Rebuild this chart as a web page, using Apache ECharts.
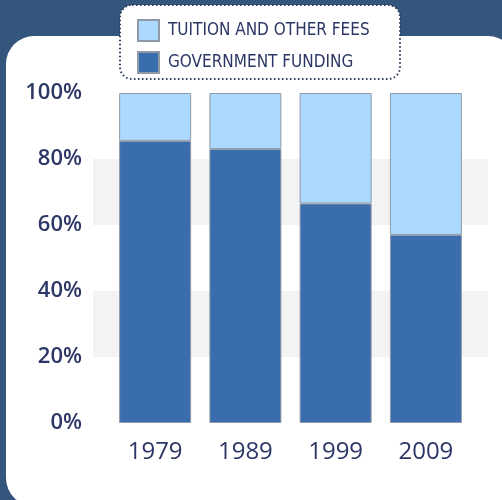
<!DOCTYPE html>
<html>
<head>
<meta charset="utf-8">
<style>
  html, body { margin: 0; padding: 0; background: #35567c; }
  #chart { width: 502px; height: 500px; }
</style>
<script src="https://cdn.jsdelivr.net/npm/echarts@6/dist/echarts.min.js"></script>
</head>
<body>
<div id="chart"></div>
<script>
// data
var years = ['1979', '1989', '1999', '2009'];
var governmentFunding = [85.5, 83, 66.5, 57];
var tuitionFees = [14.5, 17, 33.5, 43];
var yTicks = [0, 20, 40, 60, 80, 100];

var navy = '#2c3766';

var chart = echarts.init(document.getElementById('chart'));

var options = {
  backgroundColor: '#35567c',
  animation: false,
  graphic: [
    // white panel
    { type: 'rect', z: -10, shape: { x: 6, y: 36, width: 510, height: 470, r: 28 },
      style: { fill: '#ffffff' } },
    // dotted legend box
    { type: 'rect', z: 5, shape: { x: 120, y: 5, width: 280, height: 74, r: 12 },
      style: { fill: '#ffffff', stroke: '#2b3a5a', lineWidth: 2, lineDash: [1.5, 2.5] } }
  ],
  legend: {
    orient: 'vertical',
    left: 132,
    top: 14,
    z: 10,
    itemWidth: 21,
    itemHeight: 21,
    itemGap: 9,
    icon: 'rect',
    data: ['TUITION AND OTHER FEES', 'GOVERNMENT FUNDING'],
    textStyle: {
      fontFamily: '"DejaVu Sans Condensed", Roboto, sans-serif',
      fontSize: 17,
      color: navy,
      padding: [0, 0, 0, 4]
    }
  },
  grid: [
    { left: 110, right: 31, top: 93, bottom: 77 },
    { left: 93, right: 14, top: 93, bottom: 77 }
  ],
  xAxis: [
    {
      type: 'category',
      data: years,
      gridIndex: 0,
      axisLine: { show: false },
      axisTick: { show: false },
      axisLabel: { margin: 17, fontFamily: 'Open Sans', fontSize: 24, color: navy }
    },
    { type: 'value', gridIndex: 1, min: 0, max: 1, show: false }
  ],
  yAxis: [
    {
      type: 'value',
      gridIndex: 0,
      min: yTicks[0],
      max: yTicks[yTicks.length - 1],
      interval: 20,
      axisLine: { show: false },
      axisTick: { show: false },
      splitLine: { show: false },
      axisLabel: {
        margin: 28,
        fontFamily: 'Open Sans',
        fontWeight: 600,
        fontSize: 22,
        color: navy,
        formatter: '{value}%'
      }
    },
    {
      type: 'value',
      gridIndex: 1,
      min: 0,
      max: 100,
      interval: 20,
      axisLine: { show: false },
      axisTick: { show: false },
      axisLabel: { show: false },
      splitLine: { show: false },
      splitArea: { show: true, areaStyle: { color: ['rgba(0,0,0,0)', '#f3f3f3'] } }
    }
  ],
  series: [
    {
      name: 'GOVERNMENT FUNDING',
      type: 'bar',
      stack: 'total',
      barWidth: 72,
      data: governmentFunding,
      itemStyle: { color: '#3a6dad', borderColor: '#8f9aa6', borderWidth: 1 }
    },
    {
      name: 'TUITION AND OTHER FEES',
      type: 'bar',
      stack: 'total',
      barWidth: 72,
      data: tuitionFees,
      itemStyle: { color: '#acdafe', borderColor: '#8f9aa6', borderWidth: 1 }
    }
  ]
};

chart.setOption(options);
</script>
</body>
</html>
